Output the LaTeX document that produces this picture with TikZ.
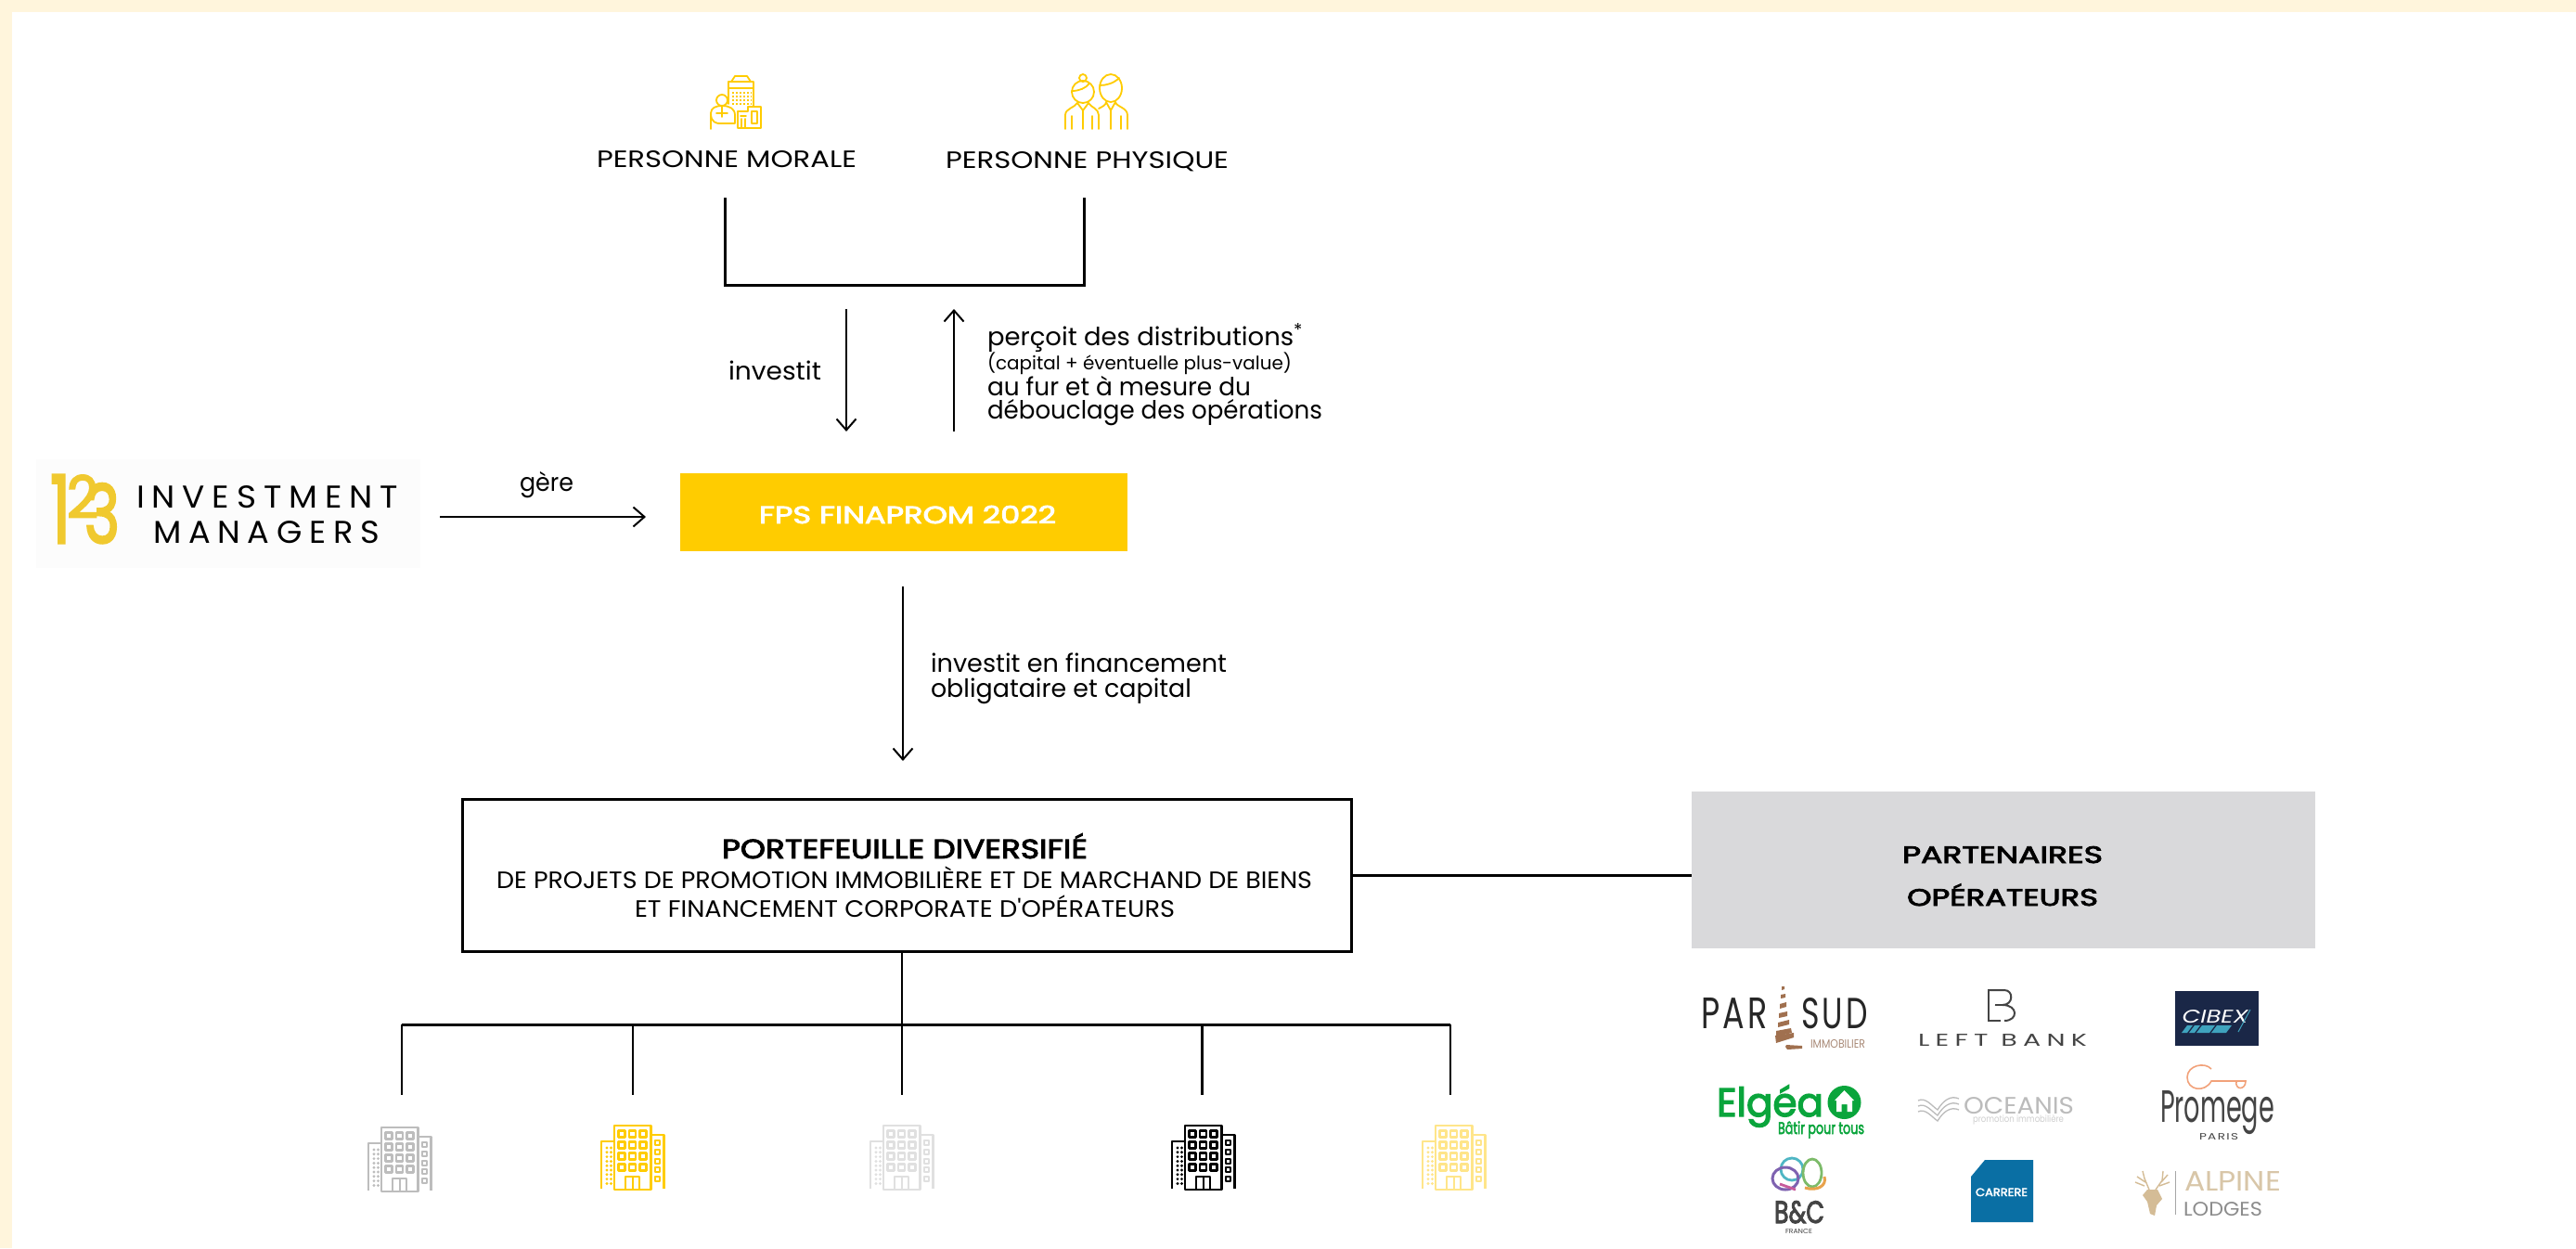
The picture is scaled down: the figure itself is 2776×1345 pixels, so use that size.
\documentclass[tikz,border=0pt]{standalone}
\usepackage{fontspec}
\usepackage{graphicx}
\setmainfont{Poppins}
\newfontfamily\lsfont[LetterSpace=22]{Poppins}
\newfontfamily\wsfont[LetterSpace=10]{Poppins}
\newfontfamily\semib[FakeBold=3]{Poppins}
\newfontfamily\pf{Poppins}
\usetikzlibrary{arrows.meta}
\definecolor{cream}{HTML}{FFF5DC}
\definecolor{fpsyellow}{HTML}{FFCC00}
\definecolor{logoyellow}{HTML}{F0C92F}
\definecolor{partgray}{HTML}{D9D9DB}
\definecolor{logobg}{HTML}{FCFCFC}
\definecolor{bgray}{HTML}{BDBDBD}
\definecolor{blgray}{HTML}{E0E0E0}
\definecolor{blyellow}{HTML}{FFE58A}
\definecolor{brownp}{HTML}{A0704F}
\definecolor{brownl}{HTML}{A98A77}
\definecolor{navy}{HTML}{1A2747}
\definecolor{teal}{HTML}{3FA3BE}
\definecolor{green}{HTML}{0AA53C}
\definecolor{ocg}{HTML}{BBBBBB}
\definecolor{orangek}{HTML}{F2A27A}
\definecolor{cblue}{HTML}{0A6FA4}
\definecolor{tan}{HTML}{D4BC96}
\definecolor{tanl}{HTML}{D8C6A8}
\definecolor{dgray}{HTML}{444444}
\definecolor{rpink}{HTML}{C75B9B}
\definecolor{rpurple}{HTML}{7E62B0}
\definecolor{rteal}{HTML}{4FB6C4}
\definecolor{rgreen}{HTML}{7DBB6A}
\definecolor{rorange}{HTML}{E8A24B}
\newcommand\fitw[3]{\resizebox{#1pt}{\height}{\fontsize{#2pt}{#2pt}\selectfont #3}}
\newcommand\bldg[2]{%
\begin{scope}[shift={(#1)},color=#2,line width=2.4pt,line join=round]
\draw (0,69) -- (0,18) -- (14,18);
\draw (14,1) rectangle (53.5,70);
\draw (53.5,11) -- (67.5,11) -- (67.5,69);
\foreach \cx in {22,33.5,45}{\foreach \cy in {10,22,34,46}{\draw[line width=2.6pt] (\cx-3.5,\cy-3.5) rectangle (\cx+3.5,\cy+3.5);}}
\draw[line width=2pt] (26,70) -- (26,56) -- (41,56) -- (41,70);
\draw[line width=2pt] (33.5,56) -- (33.5,70);
\foreach \cy in {19,29,39,48,58}{\draw[line width=2pt] (57.5,\cy-2.5) rectangle (62.5,\cy+2.5);}
\foreach \cy in {25,29.8,34.6,39.4,44.2,49,53.8,58.6,63.4}{\fill (6,\cy) circle (1.6pt);\fill (10.5,\cy) circle (1.6pt);}
\end{scope}}
\tikzset{
 lbl/.style={inner sep=0pt,outer sep=0pt,anchor=base west,text=black},
 lblc/.style={inner sep=0pt,outer sep=0pt,anchor=base,text=black},
 conn/.style={draw=black,line width=3pt},
 thin conn/.style={draw=black,line width=2.4pt},
 arr/.style={draw=black,line width=2pt,-{Straight Barb[length=12pt,width=21pt,line width=2pt]}},
 icon/.style={draw=fpsyellow,line width=1.8pt,line join=round,line cap=round},
}
\begin{document}
\begin{tikzpicture}[x=1pt,y=-1pt]
\useasboundingbox (0,0) rectangle (2776,1345);
\fill[cream] (0,0) rectangle (2776,1345);
\fill[white] (13,13) rectangle (2776,1345);

% icons top
\begin{scope}[icon]
 \draw (785,112) -- (785,88) -- (812,88) -- (812,115);
 \draw (788,88) -- (792,82) -- (805,82) -- (809,88);
 \draw (785,95) -- (812,95);
 \foreach \yy in {100,104,108,112}{\draw[line width=1.6pt,dash pattern=on 2pt off 2pt,line cap=butt] (789,\yy) -- (810,\yy);}
 \draw (778,108) circle (6pt);
 \draw (766,139) -- (766,122) .. controls (766,116) and (772,114) .. (778,114) .. controls (786,114) and (792,117) .. (792,124) -- (792,133) -- (774,133);
 \draw (766,122) .. controls (766,132) and (772,133) .. (776,133);
 \draw (778,114) -- (778,126) (772,122) -- (784,122);
 \draw (795,138) -- (795,120) -- (806,120) -- (806,115) -- (820,115) -- (820,138) -- cycle;
 \draw (810,120) rectangle (816,133);
 \draw (798,125) -- (804,125) (799,138) -- (799,128) (803,138) -- (803,128);
 % physique
 \draw (1167,99) ellipse (12pt and 12pt);
 \draw (1167,84) circle (4pt);
 \draw (1155,98) .. controls (1163,98) and (1170,95) .. (1174,90);
 \draw (1148,139) -- (1148,124) .. controls (1148,117) and (1158,116) .. (1161,111) -- (1167,119) -- (1173,111) .. controls (1176,116) and (1184,117) .. (1184,124) -- (1184,139);
 \draw (1155,139) -- (1155,125) (1177,139) -- (1177,125) (1167,119) -- (1167,139);
 \draw (1197,95) ellipse (12pt and 15pt);
 \draw (1185,92) .. controls (1192,92) and (1200,90) .. (1206,84);
 \draw (1184,117) .. controls (1188,115) and (1192,113) .. (1192,110) -- (1197,119) -- (1202,110) .. controls (1203,115) and (1215,116) .. (1215,124) -- (1215,139);
 \draw (1197,119) -- (1197,139) (1208,139) -- (1208,125);
\end{scope}

% labels top
\node[lbl] (pm) at (643,180) {\fitw{280}{25.5}{PERSONNE MORALE}};
\node[lbl] (pp) at (1019,181) {\fitw{305}{25.5}{PERSONNE PHYSIQUE}};

% bracket
\coordinate (bl) at (781,213);
\coordinate (br) at (1168,213);
\coordinate (bb) at (781,307);
\draw[conn,line join=miter] (bl) -- (bb) -- (bb -| br) -- (br);

% FPS
\node[fill=fpsyellow,minimum width=482pt,minimum height=84pt,inner sep=0pt,text=white] (fps) at (974,552) {};
\node[lblc,text=white] (fpst) at (978,564) {\semib\fitw{320}{26}{FPS FINAPROM 2022}};

% investit arrows
\coordinate (a1s) at (912,333);
\coordinate (a1e) at (912,465);
\coordinate (a2s) at (1028,465);
\coordinate (a2e) at (1028,333);
\draw[arr] (a1s) -- (a1e);
\draw[arr] (a2s) -- (a2e);
\node[lbl] (inv) at (785,409) {\fitw{100}{27}{investit}};
\node[lbl] (dt1) at (1064,372) {\fitw{340}{27}{perçoit des distributions\textsuperscript{*}}};
\node[lbl] (dt2) at (1064,398.5) {\fitw{328}{20}{(capital + éventuelle plus-value)}};
\node[lbl] (dt3) at (1064,426) {\fitw{284}{27}{au fur et à mesure du}};
\node[lbl] (dt4) at (1064,451) {\fitw{361}{27}{débouclage des opérations}};

% logo 123
\fill[logobg] (39,495) rectangle (453,612);
\node[lblc,text=logoyellow] (l1) at (65,585) {\semib\resizebox{22pt}{73pt}{1}};
\node[lblc,text=logoyellow] (l2) at (89,558) {\semib\resizebox{34pt}{46pt}{2}};
\node[lblc,text=logoyellow] (l3) at (110,585) {\semib\resizebox{38pt}{64pt}{3}};
\node[lbl] (im1) at (147,547) {\resizebox{282pt}{24pt}{\lsfont\fontsize{34pt}{34pt}\selectfont INVESTMENT}};
\node[lbl] (im2) at (165,585) {\resizebox{244pt}{24pt}{\lsfont\fontsize{34pt}{34pt}\selectfont MANAGERS}};
\coordinate (ga) at (474,557);
\coordinate (gb) at (696,557);
\draw[arr,line width=2.4pt] (ga) -- (gb);
\node[lbl] (g) at (560,529) {\fitw{58}{27}{gère}};

% FPS down arrow
\coordinate (f1) at (973,632);
\coordinate (f2) at (973,820);
\draw[arr] (f1) -- (f2);
\node[lbl] (if1) at (1003,724.5) {\fitw{319}{27}{investit en financement}};
\node[lbl] (if2) at (1003,751.5) {\fitw{281}{27}{obligataire et capital}};

% portfolio
\node[draw=black,line width=3pt,minimum width=958pt,minimum height=164pt,inner sep=0pt] (port) at (977.5,943.5) {};
\node[lbl] (p1) at (778,925) {\semib\fitw{394}{29}{PORTEFEUILLE DIVERSIFIÉ}};
\node[lbl] (p2) at (535,957.5) {\fitw{879}{25.5}{DE PROJETS DE PROMOTION IMMOBILIÈRE ET DE MARCHAND DE BIENS}};
\node[lbl] (p3) at (684,988.5) {\pf\fitw{582}{25.5}{ET FINANCEMENT CORPORATE D'OPÉRATEURS}};

% partners
\node[fill=partgray,minimum width=672pt,minimum height=169pt,inner sep=0pt] (part) at (2159,937.5) {};
\node[lblc] (t1) at (2158,930) {\semib\fitw{216}{25.5}{PARTENAIRES}};
\node[lblc] (t2) at (2158,976) {\semib\fitw{206}{25.5}{OPÉRATEURS}};
\draw[conn] (port.east) -- (port.east -| part.west);

% tree
\coordinate (tr) at (972,1104);
\coordinate (d1) at (433,1180);
\coordinate (d2) at (682,1180);
\coordinate (d3) at (972,1180);
\coordinate (d4) at (1295.5,1180);
\coordinate (d5) at (1563,1180);
\draw[conn] (d1 |- tr) -- (d5 |- tr);
\draw[thin conn] (tr |- port.south) -- (d3);
\draw[thin conn] (d1 |- tr) -- (d1);
\draw[thin conn] (d2 |- tr) -- (d2);
\draw[thin conn] (d4 |- tr) -- (d4);
\draw[thin conn] (d5 |- tr) -- (d5);

% buildings
\bldg{397,1214}{bgray}
\bldg{648,1212}{fpsyellow}
\bldg{938,1212}{blgray}
\bldg{1263,1212}{black}
\bldg{1533,1212}{blyellow}

% Parisud
\node[lbl,text=black!85] (ps1) at (1833,1108) {\resizebox{72pt}{33pt}{\wsfont\fontsize{40pt}{40pt}\selectfont PAR}};
\node[lbl,text=black!85] (ps2) at (1941,1108) {\resizebox{72pt}{33pt}{\wsfont\fontsize{40pt}{40pt}\selectfont SUD}};
\fill[brownp] (1920,1063) -- (1923,1063) -- (1923,1066) -- (1920,1067) -- cycle;
\fill[brownp] (1919,1072) -- (1924,1071) -- (1924,1075) -- (1919,1076) -- cycle;
\fill[brownp] (1918,1082) -- (1925,1080) -- (1925,1085) -- (1918,1087) -- cycle;
\fill[brownp] (1917,1092) -- (1926,1090) -- (1926,1095) -- (1917,1097) -- cycle;
\fill[brownp] (1916,1102) -- (1928,1099) -- (1928,1104) -- (1916,1107) -- cycle;
\fill[brownp] (1914,1111) -- (1930,1108) -- (1931,1113) -- (1914,1117) -- cycle;
\fill[brownp] (1913,1116) -- (1933,1113) -- (1933,1118) -- (1914,1124) -- cycle;
\fill[brownp] (1925,1126) -- (1942,1127) -- (1942,1130) -- (1926,1131) -- (1924,1128) -- cycle;
\node[lbl,text=brownl] (ps3) at (1951,1129) {\resizebox{59pt}{9pt}{\fontsize{12pt}{12pt}\selectfont IMMOBILIER}};

% Left Bank
\draw[dgray,line width=2pt] (2143,1067) -- (2143,1100) -- (2156,1100);
\draw[dgray,line width=2pt] (2142,1067) -- (2160,1067) .. controls (2170,1067) and (2170,1083) .. (2158,1083) .. controls (2175,1083) and (2175,1100) .. (2160,1100);
\draw[dgray,line width=2pt] (2150,1083) -- (2158,1083);
\node[lbl,text=dgray] (lb) at (2067,1127) {\resizebox{182pt}{13pt}{\lsfont\fontsize{18pt}{18pt}\selectfont LEFT BANK}};

% Cibex
\fill[navy] (2344,1068) rectangle (2434,1127);
\node[lblc,text=white] (cb) at (2387,1102) {\resizebox{71pt}{14pt}{\itshape\fontsize{20pt}{20pt}\selectfont CIBEX}};
\foreach \xa/\xb in {2354/2360,2362/2368,2370/2384,2386/2402}{
 \fill[teal] (\xa+3,1105) -- (\xb+3,1105) -- (\xb-3,1113) -- (\xa-3,1113) -- cycle;}
\draw[teal,line width=1pt] (2425,1088) -- (2412,1112);

% Elgea
\node[lbl,text=green] (el) at (1850,1203) {\semib\resizebox{115pt}{\height}{\fontsize{43pt}{43pt}\selectfont Elgéa}};
\fill[green] (1987.5,1188) circle (18pt);
\fill[white] (1987.5,1175) -- (1998,1186) -- (1996,1186) -- (1996,1198) -- (1990.5,1198) -- (1990.5,1190) -- (1984.5,1190) -- (1984.5,1198) -- (1979,1198) -- (1979,1186) -- (1977,1186) -- cycle;
\node[lbl,text=green] (el2) at (1916,1222) {\semib\fitw{93}{18}{Bâtir pour tous}};

% Oceanis
\foreach \dy in {0,6,12}{
 \draw[ocg,line width=1.3pt] (2067,1186+\dy) .. controls (2075,1182+\dy) and (2082,1192+\dy) .. (2088,1196+\dy) .. controls (2094,1186+\dy) and (2102,1180+\dy) .. (2111,1184+\dy);}
\node[lbl,text=ocg] (oc) at (2116,1200) {\resizebox{119pt}{18pt}{\fontsize{25pt}{25pt}\selectfont OCEANIS}};
\node[lbl,text=ocg!70] (oc2) at (2126,1209) {\fitw{98}{10}{promotion immobilière}};

% Promege
\draw[orangek,line width=1.6pt] (2383,1152) .. controls (2376,1144) and (2357,1148) .. (2357,1161) .. controls (2357,1175) and (2376,1178) .. (2383,1165) -- (2420,1165) .. controls (2420,1175) and (2408,1175) .. (2410,1165);
\node[lbl,text=dgray] (pr) at (2328,1209) {\resizebox{123pt}{34pt}{\fontsize{40pt}{40pt}\selectfont Promege}};
\node[lbl,text=dgray] (pr2) at (2370,1228) {\resizebox{42pt}{7pt}{\wsfont\fontsize{10pt}{10pt}\selectfont PARIS}};

% B&C
\draw[line width=2.8pt,color=rteal] (1931,1260) circle (12pt);
\draw[line width=3pt,color=rpurple] (1924,1270) ellipse (14pt and 12pt);
\draw[line width=2.8pt,color=rpink] (1918,1276) -- (1935,1282);
\draw[line width=2.8pt,color=rgreen] (1953,1264) ellipse (10pt and 15pt);
\draw[line width=3pt,color=rorange] (1966,1268) .. controls (1969,1278) and (1958,1284) .. (1945,1280);
\node[lblc,text=dgray] (bc) at (1939,1318) {\semib\resizebox{54pt}{24pt}{\fontsize{32pt}{32pt}\selectfont B\&C}};
\node[lblc,text=dgray] (bc2) at (1938.5,1329) {\resizebox{29pt}{5pt}{\fontsize{8pt}{8pt}\selectfont FRANCE}};

% Carrere
\fill[cblue] (2124,1268) -- (2139,1250) -- (2191,1250) -- (2191,1317) -- (2124,1317) -- cycle;
\node[lblc,text=white] (cr) at (2157,1289) {\semib\fitw{56}{12}{CARRERE}};

% Alpine
\fill[tan] (2314,1282) -- (2325,1282) -- (2330,1292) -- (2324,1299) -- (2322,1310) -- (2317,1308) -- (2314,1295) -- (2309,1288) -- cycle;
\draw[tan,line width=1.4pt] (2316,1282) -- (2311,1270) -- (2309,1262) (2312,1274) -- (2303,1268) (2311,1278) -- (2301,1274);
\draw[tan,line width=1.4pt] (2323,1282) -- (2330,1272) -- (2331,1262) (2329,1274) -- (2336,1266) (2327,1278) -- (2338,1274);
\draw[black!35,line width=1pt] (2344,1262) -- (2344,1309);
\node[lbl,text=tanl] (al) at (2354,1283) {\resizebox{104pt}{21pt}{\fontsize{30pt}{30pt}\selectfont ALPINE}};
\node[lbl,text=black!45] (lo) at (2353,1310) {\resizebox{85pt}{15pt}{\fontsize{21pt}{21pt}\selectfont LODGES}};
\end{tikzpicture}
\end{document}
